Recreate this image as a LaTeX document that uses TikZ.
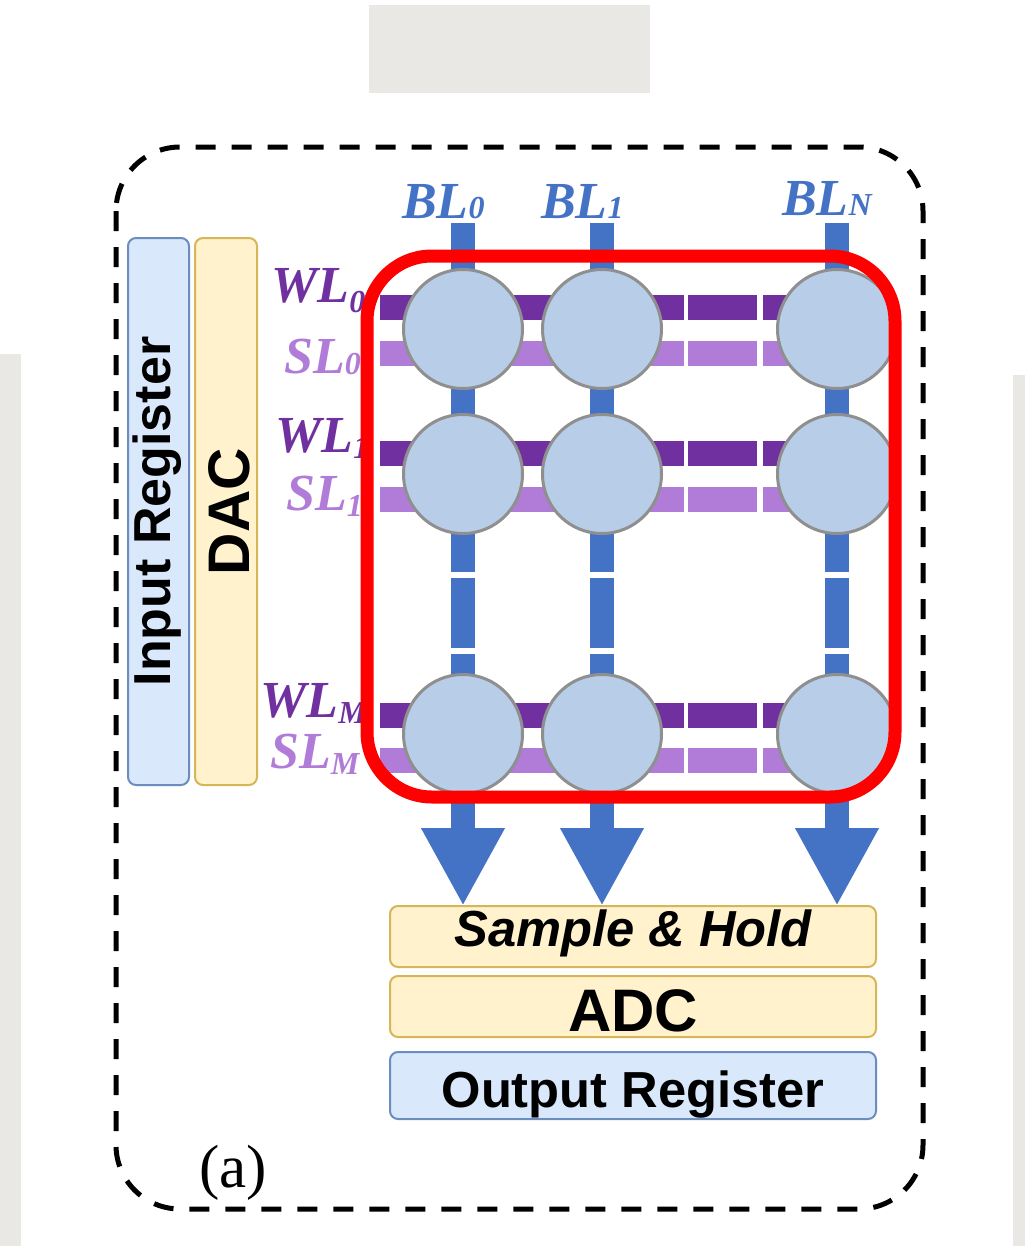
\documentclass[tikz,border=0pt]{standalone}
\usepackage{fontspec}
\setmainfont{Liberation Serif}
\setsansfont{Liberation Sans}
\usepackage{graphicx}
\usetikzlibrary{arrows.meta}
\pgfdeclarelayer{bg}
\pgfdeclarelayer{bars}
\pgfsetlayers{bg,bars,main}
\definecolor{bggray}{HTML}{EAE8E5}
\definecolor{blcol}{HTML}{4472C4}
\definecolor{wlcol}{HTML}{7030A0}
\definecolor{slcol}{HTML}{B07CD8}
\definecolor{cellfill}{HTML}{B8CDE8}
\definecolor{cellline}{HTML}{8F8F8F}
\definecolor{regfill}{HTML}{DAE8FC}
\definecolor{regline}{HTML}{6C8EBF}
\definecolor{convfill}{HTML}{FFF2CC}
\definecolor{convline}{HTML}{D6B656}
\newcommand{\sig}[3]{#1\raisebox{#3}{\fontsize{24}{24}\selectfont #2}}
\begin{document}
\begin{tikzpicture}[x=0.75pt,y=-0.75pt,
  cell/.style={circle, draw=cellline, line width=2.25pt, fill=cellfill, minimum size=89.25pt, inner sep=0pt},
  regbox/.style={draw=regline, fill=regfill, line width=1.5pt, rounded corners=6pt, inner sep=0pt, outer sep=0pt},
  convbox/.style={draw=convline, fill=convfill, line width=1.5pt, rounded corners=6pt, inner sep=0pt, outer sep=0pt},
  blbar/.style={draw=blcol, line width=18pt},
  wlbar/.style={draw=wlcol, line width=18.75pt},
  slbar/.style={draw=slcol, line width=18.75pt},
  gapdash/.style={dash pattern=on 228pt off 3pt on 51.75pt off 4.5pt on 200pt},
  lbl/.style={anchor=base west, inner sep=0pt, font=\bfseries\itshape\fontsize{39}{39}\selectfont},
  boxfont/.style={font=\sffamily\bfseries\fontsize{#1}{#1}\selectfont}
]
\useasboundingbox (0,0) rectangle (1025,1246);

% ---------- background ----------
\begin{pgfonlayer}{bg}
\fill[white] (0,0) rectangle (1025,1246);
\fill[bggray] (0,354) rectangle (21,1246);
\fill[bggray] (1013,375) rectangle (1025,1246);
\fill[white] (21,83) rectangle (1013,1246);
\fill[bggray] (369,5) rectangle (650,93);
\draw[black, line width=3.75pt, dash pattern=on 15pt off 12pt, rounded corners=48pt]
  (116,147) rectangle (923,1209);
\end{pgfonlayer}

% ---------- left column boxes ----------
\node[regbox, rotate=90, minimum width=410.25pt, minimum height=45.75pt,
      text height=17.25pt, text depth=0pt, boxfont=39] (inreg) at (158.5,511.5) {Input Register};
\node[convbox, rotate=90, minimum width=410.25pt, minimum height=46.5pt,
      text height=34.5pt, text depth=0pt, boxfont=44] (dac) at (226,511.5) {DAC};

% ---------- bottom boxes ----------
\node[convbox, minimum width=364.5pt, minimum height=45.75pt,
      text height=14.25pt, text depth=0pt,
      font=\sffamily\bfseries\itshape\fontsize{38}{38}\selectfont] (sh) at (633,936.5) {Sample \& Hold};
\node[convbox, minimum width=364.5pt, minimum height=45.75pt,
      text height=36.75pt, text depth=0pt, boxfont=45] (adc) at (633,1006.5) {ADC};
\node[regbox, minimum width=364.5pt, minimum height=50.25pt,
      text height=32.25pt, text depth=0pt, boxfont=38] (outreg) at (633,1085.5) {Output Register};

% ---------- memory cells ----------
\foreach \row/\yy in {0/329,1/474,2/734}{
  \foreach \col/\xx in {0/463,1/602,2/837}{
    \node[cell] (c\row\col) at (\xx,\yy) {};
  }
}

% ---------- bit lines / word lines / source lines ----------
\coordinate (bt0) at (463,223);
\coordinate (bt1) at (602,223);
\coordinate (bt2) at (837,223);
\coordinate (wls0) at (380,307.5);
\coordinate (sls0) at (380,353.5);
\coordinate (wls1) at (380,453);
\coordinate (sls1) at (380,499.5);
\coordinate (wls2) at (380,715);
\coordinate (sls2) at (380,760);

\begin{pgfonlayer}{bars}
\foreach \col in {0,1,2}{
  \draw[blbar] (bt\col) -- (c1\col.center);
  \draw[blbar, dash pattern=on 73.5pt off 4.5pt on 52.5pt off 4.5pt on 100pt]
    (c1\col.center) -- (c2\col.center);
  \draw[blbar, -{Triangle[width=58.5pt,length=58.5pt]}]
    (c2\col.center) -- (c2\col.center |- sh.north);
}
\foreach \row in {0,1,2}{
  \draw[wlbar, gapdash] (wls\row) -- (wls\row -| c\row2.center);
  \draw[slbar, gapdash] (sls\row) -- (sls\row -| c\row2.center);
}
\end{pgfonlayer}

% ---------- labels ----------
\node[lbl, text=blcol] (bl0) at (402,218) {\sig{BL}{0}{0pt}};
\node[lbl, text=blcol] (bl1) at (541,218) {\sig{BL}{1}{0pt}};
\node[lbl, text=blcol] (bln) at (782,215) {\sig{BL}{N}{0pt}};
\node[lbl, text=wlcol] (wl0) at (271,302) {\sig{WL}{0}{-7.5pt}};
\node[lbl, text=slcol] (sl0) at (284,373) {\sig{SL}{0}{-1pt}};
\node[lbl, text=wlcol] (wl1) at (275,452) {\sig{WL}{1}{-5pt}};
\node[lbl, text=slcol] (sl1) at (286,510) {\sig{SL}{1}{-5pt}};
\node[lbl, text=wlcol] (wlm) at (260,717) {\sig{WL}{M}{-5pt}};
\node[lbl, text=slcol] (slm) at (270,768) {\sig{SL}{M}{-5pt}};

\node[anchor=base west, inner sep=0pt, font=\fontsize{45.75}{46}\selectfont] (tag) at (199,1187) {(a)};

% ---------- highlighted array ----------
\node[draw=red, line width=9.75pt, rounded corners=48.75pt, minimum width=396pt,
      minimum height=405.75pt, inner sep=0pt] (array) at (631,526.5) {};
\end{tikzpicture}
\end{document}
